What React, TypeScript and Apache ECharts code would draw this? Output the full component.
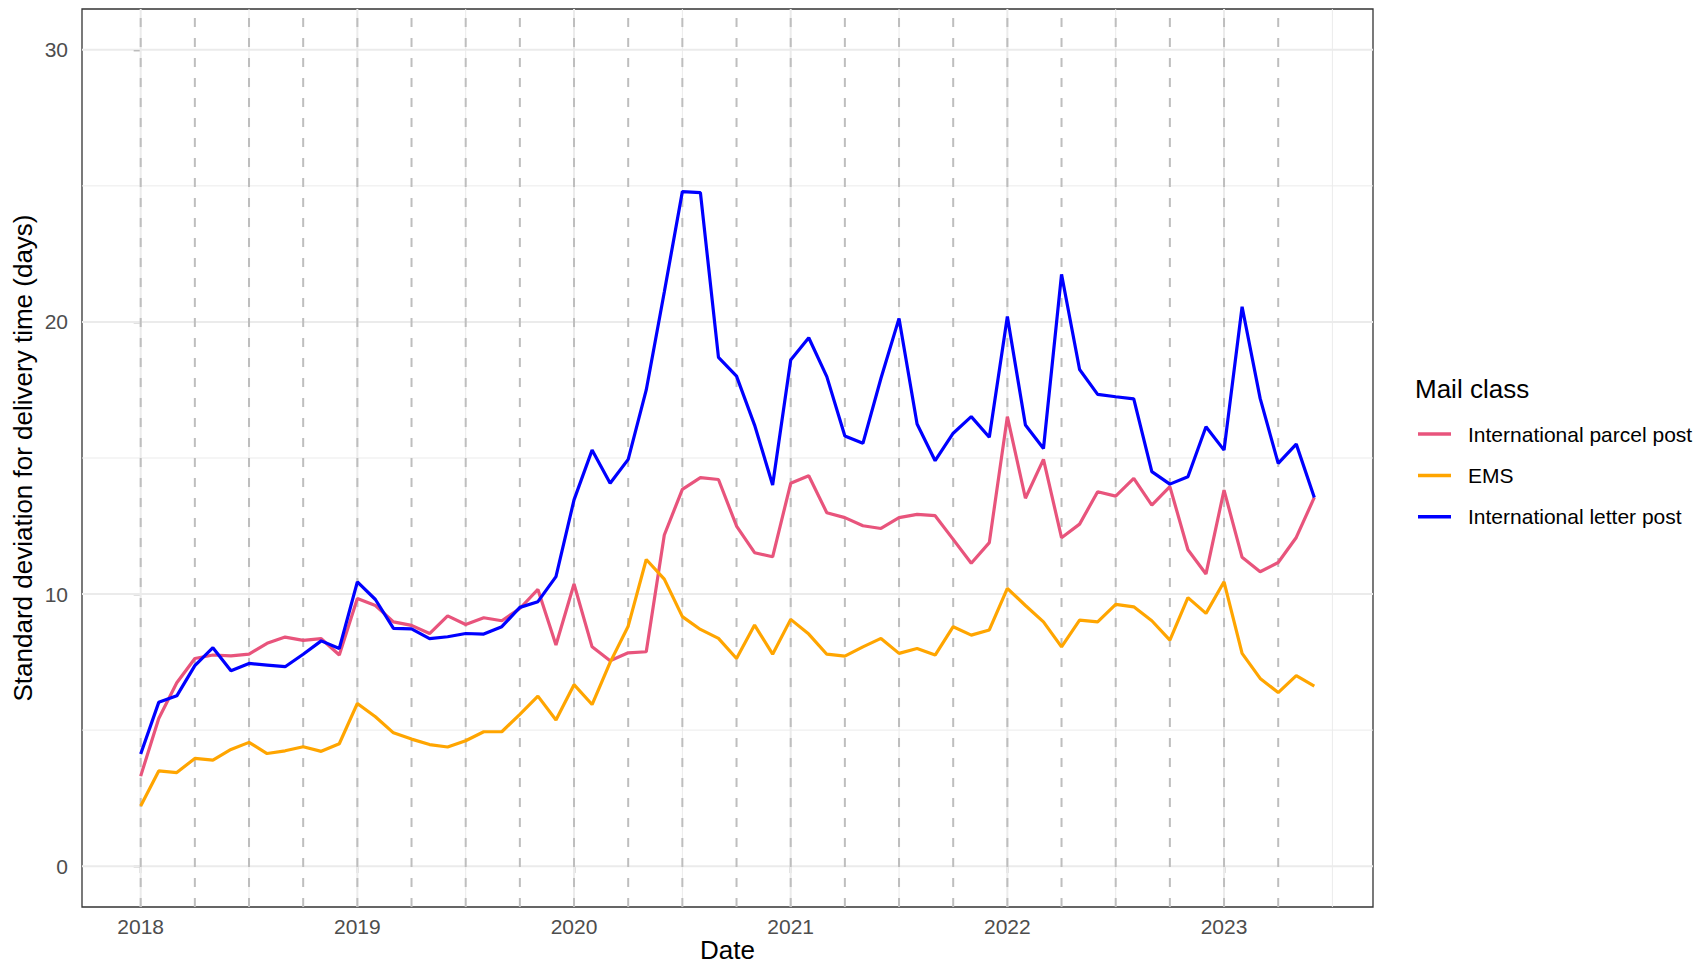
import React, { useEffect, useRef } from "react";
import * as echarts from "echarts";

// Monthly observations, Jan 2018 .. Jun 2023 (66 months)
const startYear = 2018;
const monthCount = 66;
const months: string[] = [];
for (let i = 0; i < monthCount; i++) {
  const y = startYear + Math.floor(i / 12);
  const m = (i % 12) + 1;
  months.push(`${y}-${m < 10 ? "0" + m : m}`);
}

const seriesNames = ["International parcel post", "EMS", "International letter post"];
const seriesColors = ["#E8547C", "#FFA500", "#0000FF"];

const parcelPost = [
  3.31, 5.43, 6.74, 7.63, 7.76, 7.73, 7.79, 8.19, 8.42, 8.3, 8.36, 7.76,
  9.84, 9.58, 8.98, 8.85, 8.55, 9.2, 8.88, 9.13, 9.02, 9.47, 10.17, 8.13,
  10.37, 8.06, 7.55, 7.84, 7.88, 12.17, 13.85, 14.28, 14.21, 12.5, 11.52, 11.37,
  14.07, 14.35, 12.99, 12.81, 12.51, 12.41, 12.81, 12.93, 12.88, 12.01, 11.13, 11.89,
  16.52, 13.52, 14.95, 12.07, 12.57, 13.76, 13.6, 14.25, 13.27, 13.95, 11.63, 10.74,
  13.82, 11.35, 10.82, 11.16, 12.08, 13.55,
];

const ems = [
  2.21, 3.5, 3.44, 3.96, 3.9, 4.29, 4.55, 4.14, 4.24, 4.39, 4.22, 4.5,
  5.98, 5.49, 4.9, 4.67, 4.47, 4.38, 4.61, 4.94, 4.94, 5.58, 6.25, 5.37,
  6.67, 5.94, 7.49, 8.82, 11.27, 10.55, 9.17, 8.7, 8.37, 7.63, 8.86, 7.79,
  9.07, 8.53, 7.79, 7.72, 8.06, 8.37, 7.82, 8.0, 7.76, 8.8, 8.49, 8.68,
  10.21, 9.58, 8.98, 8.06, 9.04, 8.98, 9.62, 9.53, 9.02, 8.31, 9.87, 9.29,
  10.45, 7.82, 6.9, 6.38, 7.0, 6.62,
];

const letterPost = [
  4.12, 6.02, 6.26, 7.37, 8.03, 7.18, 7.45, 7.39, 7.33, 7.79, 8.28, 8.0,
  10.45, 9.8, 8.74, 8.72, 8.36, 8.43, 8.55, 8.53, 8.8, 9.51, 9.72, 10.64,
  13.46, 15.29, 14.07, 14.95, 17.5, 21.1, 24.79, 24.75, 18.7, 18.01, 16.21, 14.01,
  18.6, 19.42, 17.99, 15.81, 15.54, 17.93, 20.13, 16.25, 14.9, 15.91, 16.52, 15.76,
  20.2, 16.21, 15.35, 21.75, 18.25, 17.34, 17.25, 17.17, 14.5, 14.04, 14.31, 16.15,
  15.29, 20.56, 17.19, 14.8, 15.51, 13.55,
];

const seriesValues = [parcelPost, ems, letterPost];

// tick labels
const xTickYears = [2018, 2019, 2020, 2021, 2022, 2023];
const yTicks = [0, 10, 20, 30];
const yMinorTicks = [5, 15, 25];
const xMinorMonths = [6, 18, 30, 42, 54, 66];
const quarterMonths = [0, 3, 6, 9, 12, 15, 18, 21, 24, 27, 30, 33, 36, 39, 42, 45, 48, 51, 54, 57, 60, 63];

const X_MIN = -3.25;
const X_MAX = 68.25;
const Y_MIN = -1.5;
const Y_MAX = 31.5;

const FONT = "'Liberation Sans', Arial, Helvetica, sans-serif";

export default function App() {
  const ref = useRef<HTMLDivElement>(null);

  useEffect(() => {
    document.body.style.margin = "0";
    if (!ref.current) return;
    const chart = echarts.init(ref.current, undefined, { renderer: "svg" });

    const xTickValues = xTickYears.map((y) => (y - startYear) * 12);

    // grid lines: [x, y, kind, width]
    const gridData: number[][] = [];
    yMinorTicks.forEach((v) => gridData.push([X_MIN, v, 1, 1]));
    yTicks.forEach((v) => gridData.push([X_MIN, v, 1, 2]));
    xMinorMonths.forEach((v) => gridData.push([v, Y_MIN, 0, 1]));
    xTickValues.forEach((v) => gridData.push([v, Y_MIN, 0, 2]));

    const renderGrid = (params: any, api: any) => {
      const kind = api.value(2);
      const w = api.value(3);
      let p1, p2;
      if (kind === 1) {
        const y = api.value(1);
        p1 = api.coord([X_MIN, y]);
        p2 = api.coord([X_MAX, y]);
      } else {
        const x = api.value(0);
        p1 = api.coord([x, Y_MIN]);
        p2 = api.coord([x, Y_MAX]);
      }
      return {
        type: "line",
        shape: { x1: p1[0], y1: p1[1], x2: p2[0], y2: p2[1] },
        style: { stroke: "#EBEBEB", lineWidth: w },
        silent: true,
      };
    };

    const renderDashed = (params: any, api: any) => {
      const x = api.value(0);
      const p1 = api.coord([x, Y_MIN]);
      const p2 = api.coord([x, Y_MAX]);
      return {
        type: "line",
        shape: { x1: p1[0], y1: p1[1], x2: p2[0], y2: p2[1] },
        style: { stroke: "#BEBEBE", lineWidth: 2, lineDash: [9, 11] },
        silent: true,
      };
    };

    const option: any = {
      animation: false,
      backgroundColor: "#FFFFFF",
      title: {
        text: "Mail class",
        left: 1415,
        top: 376,
        padding: 0,
        textStyle: { fontSize: 26, fontWeight: "normal", color: "#000000", fontFamily: FONT },
      },
      legend: {
        data: seriesNames,
        orient: "vertical",
        left: 1418,
        top: 422,
        padding: 0,
        itemWidth: 33,
        itemHeight: 3.5,
        itemGap: 17.4,
        icon: "rect",
        selectedMode: false,
        textStyle: {
          fontSize: 21,
          lineHeight: 24,
          color: "#000000",
          fontFamily: FONT,
          padding: [0, 0, 0, 12],
        },
      },
      grid: {
        left: 82,
        top: 9,
        width: 1291,
        height: 898,
        show: true,
        containLabel: false,
        outerBoundsMode: "none",
        borderColor: "#333333",
        borderWidth: 1.3,
        backgroundColor: "transparent",
      },
      xAxis: {
        type: "value",
        min: X_MIN,
        max: X_MAX,
        name: "Date",
        nameLocation: "middle",
        nameGap: 30,
        nameMoveOverlap: false,
        nameTextStyle: { fontSize: 26, lineHeight: 26, color: "#000000", fontFamily: FONT },
        splitLine: { show: false },
        axisLine: { show: false },
        axisTick: {
          show: true,
          customValues: xTickValues,
          length: 7,
          lineStyle: { color: "#333333", width: 1.3 },
        },
        axisLabel: {
          customValues: xTickValues,
          fontSize: 21,
          color: "#4D4D4D",
          fontFamily: FONT,
          margin: 9,
          formatter: (v: number) => String(startYear + Math.round(v / 12)),
        },
      },
      yAxis: {
        type: "value",
        min: Y_MIN,
        max: Y_MAX,
        name: "Standard deviation for delivery time (days)",
        nameLocation: "middle",
        nameGap: 46,
        nameMoveOverlap: false,
        nameTextStyle: { fontSize: 26, color: "#000000", fontFamily: FONT },
        splitLine: { show: false },
        axisLine: { show: false },
        axisTick: {
          show: true,
          customValues: yTicks,
          length: 7,
          lineStyle: { color: "#333333", width: 1.3 },
        },
        axisLabel: {
          customValues: yTicks,
          fontSize: 21,
          color: "#4D4D4D",
          fontFamily: FONT,
          margin: 14,
        },
      },
      series: [
        {
          type: "custom",
          name: "grid",
          silent: true,
          renderItem: renderGrid,
          data: gridData,
          z: 1,
        },
        {
          type: "custom",
          name: "quarters",
          silent: true,
          renderItem: renderDashed,
          data: quarterMonths.map((m) => [m, Y_MIN]),
          z: 1,
        },
        ...seriesNames.map((name, si) => ({
          type: "line",
          name,
          data: seriesValues[si].map((v, i) => [i, v]),
          showSymbol: false,
          symbol: "none",
          lineStyle: { color: seriesColors[si], width: 3.2 },
          itemStyle: { color: seriesColors[si] },
          z: 3,
        })),
      ],
    };

    chart.setOption(option);
    return () => {
      chart.dispose();
    };
  }, []);

  return <div ref={ref} style={{ width: 1696, height: 966 }} />;
}
